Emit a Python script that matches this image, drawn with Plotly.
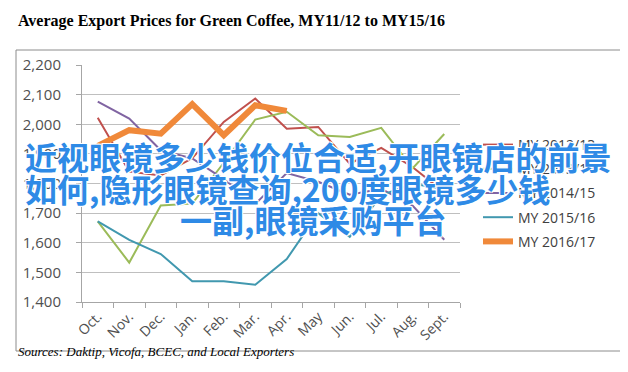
import plotly.graph_objects as go

months = ['Oct.', 'Nov.', 'Dec.', 'Jan.', 'Feb.', 'Mar.', 'Apr.', 'May', 'Jun.', 'Jul.', 'Aug.', 'Sept.']
my_2012_13 = [2022, 1840, 1827, 1885, 2008, 2087, 1985, 1991, 1867, 1920, 1855, 1770]
my_2013_14 = [1672, 1533, 1726, 1732, 1870, 2016, 2042, 1963, 1957, 1988, 1852, 1967]
my_2014_15 = [2076, 2019, 1912, 1885, 1815, 1731, 1835, 1806, 1762, 1782, 1725, 1610]
my_2015_16 = [1672, 1610, 1562, 1470, 1470, 1458, 1545, 1700, 1620, 1760, 1800, 1780]
my_2016_17 = [1927, 1980, 1968, 2068, 1963, 2064, 2045, None, None, None, None, None]

series_names = ['MY 2012/13', 'MY 2013/14', 'MY 2014/15', 'MY 2015/16', 'MY 2016/17']
series_values = [my_2012_13, my_2013_14, my_2014_15, my_2015_16, my_2016_17]
series_colors = ['#c0504d', '#9bbb59', '#8064a2', '#4198af', '#f0893a']
series_widths = [2, 2, 2, 2, 6]

title_text = 'Average Export Prices for Green Coffee, MY11/12 to MY15/16'
source_text = 'Sources: Daktip, Vicofa, BCEC, and Local Exporters'
overlay_lines = ['近视眼镜多少钱价位合适,开眼镜店的前景',
                 '如何,隐形眼镜查询,200度眼镜多少钱',
                 '一副,眼镜采购平台']

W, H = 628, 372
L, R, T, B = 74, 452, 57, 294


def px(x):
    return (x - L) / (R - L)


def py(y):
    return (B - y) / (B - T)


fig = go.Figure()
for name, vals, col, w in zip(series_names, series_values, series_colors, series_widths):
    fig.add_trace(go.Scatter(x=months, y=vals, name=name, mode='lines',
                             line=dict(color=col, width=w), legendgroup=name,
                             connectgaps=False))

xfont = dict(family='Open Sans, Liberation Sans, sans-serif', size=14, color='#505050')
yfont = dict(family='Open Sans, Liberation Sans, sans-serif', size=15, color='#505050')

fig.update_layout(
    width=W, height=H,
    margin=dict(l=L, r=W - R, t=T, b=H - B, pad=0),
    paper_bgcolor='white', plot_bgcolor='white',
    showlegend=True,
    legend=dict(x=px(470), y=py(121), xanchor='left', yanchor='top',
                font=dict(family='Open Sans, Liberation Sans, sans-serif', size=14, color='#404040'),
                tracegroupgap=3, bgcolor='rgba(0,0,0,0)', itemwidth=30),
    xaxis=dict(type='category', tickangle=-45, tickfont=xfont,
               showline=True, linecolor='#a6a6a6', linewidth=1,
               ticks='outside', ticklen=5, tickcolor='#a6a6a6', tickson='boundaries',
               showgrid=False, range=[-0.5, 11.5]),
    yaxis=dict(range=[1400, 2200], dtick=100, tickformat=',', tickfont=yfont,
               showgrid=True, gridcolor='#bfbfbf', gridwidth=1,
               showline=True, linecolor='#a6a6a6', ticks='outside', ticklen=5,
               tickcolor='#a6a6a6', zeroline=False, ticklabelstandoff=12),
)

# outer chart frame
fig.add_shape(type='rect', xref='paper', yref='paper',
              x0=px(8), x1=px(614), y0=py(343), y1=py(42),
              line=dict(color='#8c8c8c', width=1), fillcolor='rgba(0,0,0,0)', layer='below')

fig.add_annotation(text='<b>' + title_text + '</b>', xref='paper', yref='paper',
                   x=px(8), y=py(13), xanchor='left', yanchor='middle', showarrow=False,
                   font=dict(family='Liberation Serif, Times New Roman, serif', size=16, color='#000000'))
fig.add_annotation(text='<i>' + source_text + '</i>', xref='paper', yref='paper',
                   x=px(8), y=py(343), xanchor='left', yanchor='middle', showarrow=False,
                   font=dict(family='Liberation Serif, Times New Roman, serif', size=13, color='#000000'))

shadow = '1px 1px 0 #ffffff, -1px -1px 0 #ffffff, 1px -1px 0 #ffffff, -1px 1px 0 #ffffff'
ov_font = dict(family='Noto Sans CJK SC, sans-serif', size=32, color='#2e8ae6',
               weight='bold', shadow=shadow)
ov_pos = [(15, 148, 'left'), (15, 180, 'left'), (305, 211, 'center')]
for txt, (xx, yy, anc) in zip(overlay_lines, ov_pos):
    fig.add_annotation(text=txt, xref='paper', yref='paper', x=px(xx), y=py(yy),
                       xanchor=anc, yanchor='middle', showarrow=False, font=ov_font)

fig.write_html('out.html')
